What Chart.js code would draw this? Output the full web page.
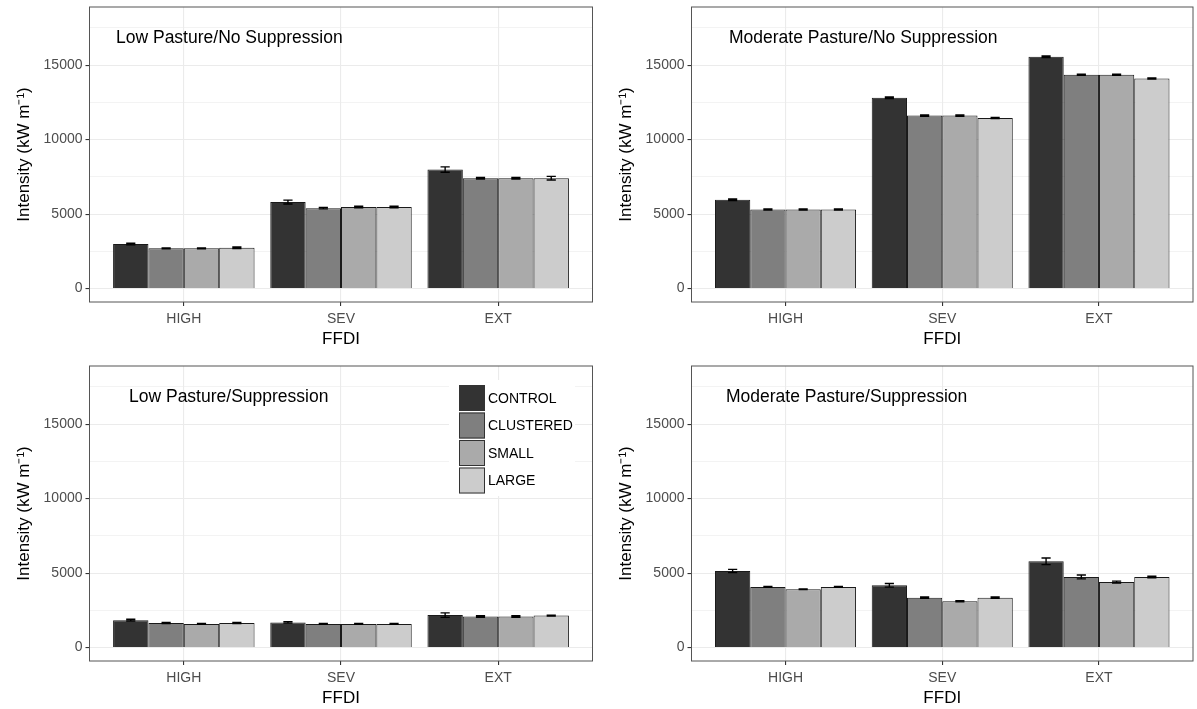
<!DOCTYPE html>
<html>
<head>
<meta charset="utf-8">
<script src="https://cdn.jsdelivr.net/npm/chart.js@4.4.1/dist/chart.umd.min.js"></script>
<style>
  html, body { margin: 0; padding: 0; background: #fff; overflow: hidden; width: 1197px; height: 709px; }
  .panel { position: absolute; }
</style>
</head>
<body>
<div class="panel" style="left:0;top:0;width:600px;height:355px"><canvas id="c0"></canvas></div>
<div class="panel" style="left:602px;top:0;width:595px;height:355px"><canvas id="c1"></canvas></div>
<div class="panel" style="left:0;top:359px;width:600px;height:355px"><canvas id="c2"></canvas></div>
<div class="panel" style="left:602px;top:359px;width:595px;height:355px"><canvas id="c3"></canvas></div>
<script>
var categories = ['HIGH', 'SEV', 'EXT'];
var treatments = ['CONTROL', 'CLUSTERED', 'SMALL', 'LARGE'];
var panelTitles = ['Low Pasture/No Suppression', 'Moderate Pasture/No Suppression',
                   'Low Pasture/Suppression', 'Moderate Pasture/Suppression'];

// mean intensity, one row per treatment, one value per FFDI class
var lowNoSupp = [[2990, 5810, 7990], [2700, 5400, 7410], [2700, 5480, 7410], [2740, 5480, 7410]];
var modNoSupp = [[5960, 12810, 15560], [5310, 11610, 14350], [5310, 11610, 14350], [5310, 11450, 14100]];
var lowSupp   = [[1840, 1690, 2180], [1650, 1590, 2090], [1590, 1590, 2090], [1650, 1590, 2150]];
var modSupp   = [[5140, 4180, 5790], [4070, 3350, 4740], [3910, 3110, 4400], [4070, 3350, 4740]];

// standard errors, same layout
var lowNoSuppErr = [[55, 130, 180], [30, 50, 50], [30, 50, 50], [50, 50, 120]];
var modNoSuppErr = [[50, 50, 50], [40, 40, 40], [40, 40, 40], [40, 30, 40]];
var lowSuppErr   = [[60, 50, 150], [30, 30, 50], [30, 30, 50], [30, 30, 30]];
var modSuppErr   = [[110, 120, 220], [30, 50, 130], [20, 40, 60], [30, 50, 50]];

var yTickValues = [0, 2500, 5000, 7500, 10000, 12500, 15000, 17500];

var fills = ['#333333', '#7f7f7f', '#aaaaaa', '#cccccc'];
var FONT = '"Liberation Sans", Arial, sans-serif';
Chart.defaults.font.family = FONT;
Chart.defaults.animation = false;

var errorBars = {
  id: 'errorBars',
  afterDatasetsDraw: function (chart) {
    var ctx = chart.ctx, y = chart.scales.y;
    var errs = chart.options.plugins.errorBars.errs;
    ctx.save();
    ctx.strokeStyle = '#000';
    ctx.lineWidth = 1.4;
    chart.data.datasets.forEach(function (ds, i) {
      chart.getDatasetMeta(i).data.forEach(function (bar, j) {
        var v = ds.data[j].y, e = errs[i][j];
        var top = y.getPixelForValue(v + e), bot = y.getPixelForValue(v - e);
        var hw = bar.width * 0.13;
        ctx.beginPath();
        ctx.moveTo(bar.x, top); ctx.lineTo(bar.x, bot);
        ctx.moveTo(bar.x - hw, top); ctx.lineTo(bar.x + hw, top);
        ctx.moveTo(bar.x - hw, bot); ctx.lineTo(bar.x + hw, bot);
        ctx.stroke();
      });
    });
    ctx.restore();
  }
};

var frameAndTitle = {
  id: 'frameAndTitle',
  afterDraw: function (chart) {
    var ctx = chart.ctx, a = chart.chartArea;
    var o = chart.options.plugins.frameAndTitle;
    ctx.save();
    ctx.strokeStyle = '#555';
    ctx.lineWidth = 1;
    ctx.strokeRect(a.left, a.top, a.right - a.left, a.bottom - a.top);
    ctx.fillStyle = '#000';
    ctx.font = '17.5px ' + FONT;
    ctx.textBaseline = 'middle';
    ctx.fillText(o.text, a.left + o.dx, a.top + 31);
    ctx.restore();
  }
};

var boxLegend = {
  id: 'boxLegend',
  afterDraw: function (chart) {
    if (!chart.options.plugins.boxLegend.show) return;
    var ctx = chart.ctx, a = chart.chartArea;
    var x0 = a.right - 133.5, y0 = a.top + 19;
    ctx.save();
    ctx.fillStyle = '#fff';
    ctx.fillRect(x0 - 10, y0 - 5, 126, 116);
    ctx.font = '14px ' + FONT;
    ctx.textBaseline = 'middle';
    chart.data.datasets.forEach(function (ds, i) {
      var by = y0 + i * 27.5;
      ctx.fillStyle = ds.backgroundColor;
      ctx.fillRect(x0, by, 26, 26);
      ctx.strokeStyle = '#333';
      ctx.lineWidth = 1;
      ctx.strokeRect(x0 + 0.5, by + 0.5, 25, 25);
      ctx.fillStyle = '#000';
      ctx.fillText(ds.label, x0 + 29, by + 14);
    });
    ctx.restore();
  }
};

function makePanel(id, title, titleDx, means, errs, padRight, legend) {
  var datasets = treatments.map(function (t, i) {
    return {
      label: t,
      data: means[i].map(function (v, j) { return { x: j + 1, y: v }; }),
      backgroundColor: fills[i],
      borderColor: '#1a1a1a',
      borderWidth: 1,
      categoryPercentage: 0.9,
      barPercentage: 1.0
    };
  });
  return new Chart(document.getElementById(id), {
    type: 'bar',
    data: { datasets: datasets },
    plugins: [errorBars, frameAndTitle, boxLegend],
    options: {
      responsive: true,
      maintainAspectRatio: false,
      layout: { padding: { top: 7, right: padRight, left: 0, bottom: 0 } },
      plugins: {
        legend: { display: false },
        tooltip: { enabled: false },
        errorBars: { errs: errs },
        frameAndTitle: { text: title, dx: titleDx },
        boxLegend: { show: legend }
      },
      scales: {
        x: {
          type: 'linear', min: 0.4, max: 3.6, offset: false,
          afterBuildTicks: function (s) {
            s.ticks = categories.map(function (c, i) { return { value: i + 1 }; });
          },
          afterFit: function (s) { s.height = 53; s.paddingLeft = 0; s.paddingRight = 0; },
          grid: { offset: false, color: '#ebebeb', lineWidth: 1.1, tickColor: '#333', tickLength: 4 },
          border: { display: false },
          ticks: {
            autoSkip: false, maxRotation: 0, padding: 5,
            color: '#4d4d4d', font: { size: 14 },
            callback: function (v) { return categories[v - 1]; }
          },
          title: { display: true, text: 'FFDI', color: '#000', font: { size: 17 }, padding: { top: 0, bottom: 5 } }
        },
        y: {
          type: 'linear', min: -900, max: 18900,
          afterBuildTicks: function (s) {
            s.ticks = yTickValues.map(function (v) { return { value: v }; });
          },
          afterFit: function (s) { s.width = 89.5; s.paddingTop = 0; s.paddingBottom = 0; },
          grid: {
            color: '#ebebeb',
            lineWidth: function (c) { return c.tick && c.tick.value % 5000 === 0 ? 1.1 : 0.6; },
            tickColor: function (c) { return c.tick && c.tick.value % 5000 === 0 ? '#333' : 'rgba(0,0,0,0)'; },
            tickLength: 4
          },
          border: { display: false },
          ticks: {
            autoSkip: false, padding: 3,
            color: '#4d4d4d', font: { size: 14 },
            callback: function (v) { return v % 5000 === 0 ? String(v) : ''; }
          },
          title: { display: true, text: 'Intensity (kW m\u207B\u00B9)', color: '#000', font: { size: 17 }, padding: { top: 14, bottom: 0 } }
        }
      }
    }
  });
}

makePanel('c0', panelTitles[0], 26.5, lowNoSupp, lowNoSuppErr, 7.5, false);
makePanel('c1', panelTitles[1], 37.5, modNoSupp, modNoSuppErr, 4, false);
makePanel('c2', panelTitles[2], 39.5, lowSupp, lowSuppErr, 7.5, true);
makePanel('c3', panelTitles[3], 34.5, modSupp, modSuppErr, 4, false);
</script>
</body>
</html>
